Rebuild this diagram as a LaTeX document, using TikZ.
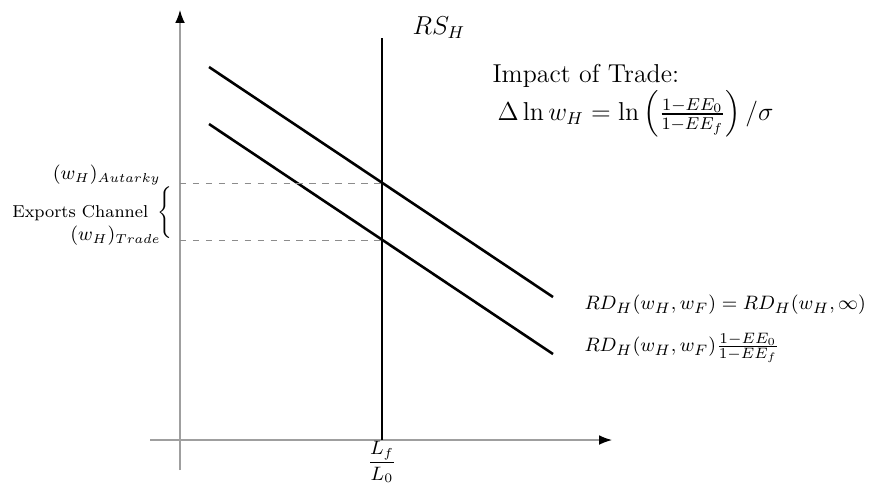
\documentclass[tikz,border=0pt]{standalone}
\usepackage{amsmath}
\usetikzlibrary{arrows.meta,positioning}
\begin{document}
\begin{tikzpicture}[x=0.0163cm,y=-0.0163cm,
    axis/.style={gray!75,semithick,-{Latex[length=6pt,width=4.5pt,color=black]}},
    curve/.style={very thick},
    guide/.style={dashed,gray!90,thin},
    lbl/.style={inner sep=0.5pt}]
  \useasboundingbox (0,0) rectangle (869,483);
  % axes
  \coordinate (ybot) at (180,470);
  \coordinate (ytop) at (180,10);
  \coordinate (xleft) at (150,440);
  \coordinate (xright) at (612,440);
  \draw[axis] (ybot) -- (ytop);
  \draw[axis] (xleft) -- (xright);
  % supply
  \coordinate (rsbot) at (382,440);
  \coordinate (rstop) at (382,38);
  \draw[curve] (rsbot) -- (rstop);
  \node[lbl,font=\large,anchor=west] (rs) at (411,28) {$RS_H$};
  % demand curves
  \foreach \n/\ya in {up/67,low/124}{
    \coordinate (\n A) at (209,\ya);
    \coordinate (\n B) at (553,\ya+230);
    \draw[curve] (\n A) -- (\n B);}
  \node[lbl,font=\fontsize{9.4}{11}\selectfont,anchor=west] (rdup) at (583,305) {$RD_H(w_H,w_F)=RD_H(w_H,\infty)$};
  \node[lbl,font=\fontsize{9.4}{11}\selectfont,anchor=west] (rdlow) at (583,348) {$RD_H(w_H,w_F)\frac{1-EE_0}{1-EE_f}$};
  % equilibria
  \foreach \n/\y/\ly/\sub in {aut/183/175/Autarky,trd/240/236/Trade}{
    \coordinate (\n) at (382,\y);
    \coordinate (\n Y) at (180,\y);
    \draw[guide] (\n Y) -- (\n);
    \node[lbl,font=\small,anchor=east] (\n L) at (162,\ly) {$(w_H)_{\sub}$};}
  \node[lbl,font=\footnotesize] (brace) at (165,213) {$\Bigg\{$};
  \node[lbl,font=\footnotesize,anchor=east] (channel) at ([xshift=-3pt]brace.west) {Exports Channel};
  \node[lbl,font=\small] (lratio) at (382,462) {$\dfrac{L_f}{L_0}$};
  % impact
  \node[lbl,font=\large,anchor=west] (impact) at (491,76) {Impact of Trade:};
  \node[lbl,font=\large,anchor=west] (formula) at (496,114)
    {$\Delta\ln w_H=\ln\left(\frac{1-EE_0}{1-EE_f}\right)/\sigma$};
\end{tikzpicture}
\end{document}
